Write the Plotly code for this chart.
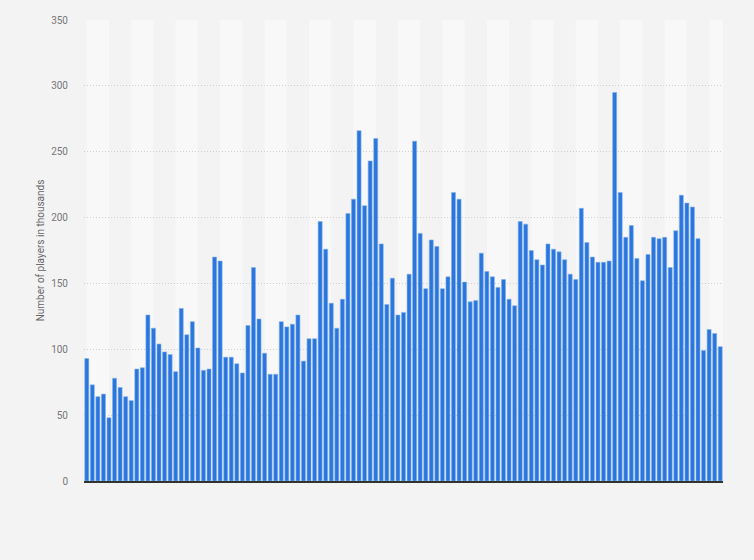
#!/usr/bin/env python3

import plotly.graph_objects as go

# Number of players (in thousands), one bar per period, left to right
players = [
    93, 73, 64, 66, 48, 78, 71, 64, 61, 85,
    86, 126, 116, 104, 98, 96, 83, 131, 111, 121,
    101, 84, 85, 170, 167, 94, 94, 89, 82, 118,
    162, 123, 97, 81, 81, 121, 117, 119, 126, 91,
    108, 108, 197, 176, 135, 116, 138, 203, 214, 266,
    209, 243, 260, 180, 134, 154, 126, 128, 157, 258,
    188, 146, 183, 178, 146, 155, 219, 214, 151, 136,
    137, 173, 159, 155, 147, 153, 138, 133, 197, 195,
    175, 168, 164, 180, 176, 174, 168, 157, 153, 207,
    181, 170, 166, 166, 167, 295, 219, 185, 194, 169,
    152, 172, 185, 184, 185, 162, 190, 217, 211, 208,
    184, 99, 115, 112, 102,
]
periods = list(range(len(players)))
y_ticks = [0, 50, 100, 150, 200, 250, 300, 350]

fig = go.Figure()
fig.add_trace(
    go.Bar(
        x=periods,
        y=players,
        marker=dict(color='#2a76dd', line=dict(color='#7fb0ef', width=0.6)),
        hoverinfo='y'
    )
)

# light vertical bands, every 4 bars
shapes = []
for start in range(0, len(players), 8):
    shapes.append(dict(
        type='rect', xref='x', yref='paper',
        x0=start, x1=min(start + 4, len(players) - 0.5), y0=0, y1=1,
        fillcolor='#f8f8f8', line=dict(width=0), layer='below'
    ))

fig.update_layout(
    width=754,
    height=560,
    paper_bgcolor='#f3f3f3',
    plot_bgcolor='#f3f3f3',
    shapes=shapes,
    showlegend=False,
    bargap=0.28,
    font=dict(family='Roboto, Arial, sans-serif', size=10, color='#666666'),
    xaxis=dict(
        range=[-0.5, len(players) - 0.5],
        showticklabels=False,
        showgrid=False,
        zeroline=False,
        showline=True,
        linecolor='#333333',
        linewidth=1.5,
        ticks=''
    ),
    yaxis=dict(
        title=dict(text='Number of players in thousands', standoff=4,
                   font=dict(size=10, color='#666666')),
        range=[0, 350],
        tickvals=y_ticks,
        gridcolor='#cfcfcf',
        griddash='1px,2px',
        gridwidth=1,
        zeroline=False,
        ticks='',
        ticklabelstandoff=15,
        tickfont=dict(size=10, color='#777777')
    ),
    margin=go.layout.Margin(
        l=84,
        r=31,
        b=79,
        t=20,
        pad=0
    )
)

# page body margin off so the figure sits at the window corner
fig.write_html("out.html", config={'displayModeBar': False},
               post_script="document.body.style.margin='0';")
